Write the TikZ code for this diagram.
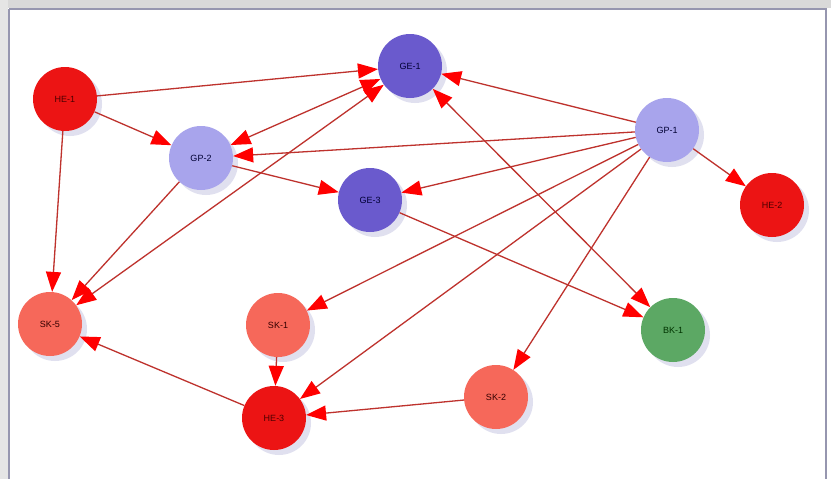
\documentclass[tikz,border=0pt]{standalone}
\usepackage{fontspec}
\setmainfont{Liberation Sans}
\usetikzlibrary{arrows.meta,shadows}
\definecolor{hered}{RGB}{236,20,20}
\definecolor{gepurple}{RGB}{106,90,205}
\definecolor{gplav}{RGB}{168,164,236}
\definecolor{sksalmon}{RGB}{246,104,90}
\definecolor{bkgreen}{RGB}{92,168,100}
\definecolor{edgecol}{RGB}{190,50,45}
\definecolor{framecol}{RGB}{150,150,175}
\tikzset{
  gnode/.style={circle, minimum size=64pt, inner sep=0pt, font=\fontsize{9}{10}\selectfont,
    drop shadow={shadow xshift=5pt, shadow yshift=-5pt, opacity=0.3, fill=black!50!blue!40}},
  henode/.style={gnode, fill=hered, text=black!70!red},
  genode/.style={gnode, fill=gepurple, text=black!80!blue},
  gpnode/.style={gnode, fill=gplav, text=black!80!blue},
  sknode/.style={gnode, fill=sksalmon, text=black!80!red},
  bknode/.style={gnode, fill=bkgreen, text=black!80!green},
  edge/.style={draw=edgecol, line width=1.3pt, -{Triangle[length=20pt,width=15pt,fill=red,color=red]}},
  dedge/.style={draw=edgecol, line width=1.3pt, {Triangle[length=20pt,width=15pt,fill=red,color=red]}-{Triangle[length=20pt,width=15pt,fill=red,color=red]}}
}
\begin{document}
\begin{tikzpicture}[x=1pt,y=-1pt]
\useasboundingbox (0,0) rectangle (831,479);
\fill[white] (0,0) rectangle (831,479);
\fill[black!15] (0,0) rectangle (831,8);
\fill[black!10] (0,0) rectangle (8,479);
\draw[framecol, line width=2pt] (9,9) -- (826,9) -- (826,479);
\draw[framecol, line width=2pt] (9,9) -- (9,479);

\node[henode] (he1) at (65,99) {HE-1};
\node[genode] (ge1) at (410,66) {GE-1};
\node[gpnode] (gp1) at (667,130) {GP-1};
\node[gpnode] (gp2) at (201,158) {GP-2};
\node[genode] (ge3) at (370,200) {GE-3};
\node[henode] (he2) at (772,205) {HE-2};
\node[sknode] (sk5) at (50,324) {SK-5};
\node[sknode] (sk1) at (278,325) {SK-1};
\node[bknode] (bk1) at (673,330) {BK-1};
\node[henode] (he3) at (274,418) {HE-3};
\node[sknode] (sk2) at (496,397) {SK-2};

\draw[edge] (he1) -- (ge1);
\draw[edge] (he1) -- (gp2);
\draw[edge] (he1) -- (sk5);
\draw[edge] (gp1) -- (ge1);
\draw[edge] (gp1) -- (gp2);
\draw[edge] (gp1) -- (ge3);
\draw[edge] (gp1) -- (he2);
\draw[edge] (gp1) -- (sk1);
\draw[edge] (gp1) -- (he3);
\draw[edge] (gp1) -- (sk2);
\draw[dedge] (ge1) -- (bk1);
\draw[dedge] (gp2) -- (ge1);
\draw[dedge] (sk5) -- (ge1);
\draw[edge] (gp2) -- (ge3);
\draw[edge] (gp2) -- (sk5);
\draw[edge] (ge3) -- (bk1);
\draw[edge] (sk1) -- (he3);
\draw[edge] (sk2) -- (he3);
\draw[edge] (he3) -- (sk5);
\end{tikzpicture}
\end{document}
